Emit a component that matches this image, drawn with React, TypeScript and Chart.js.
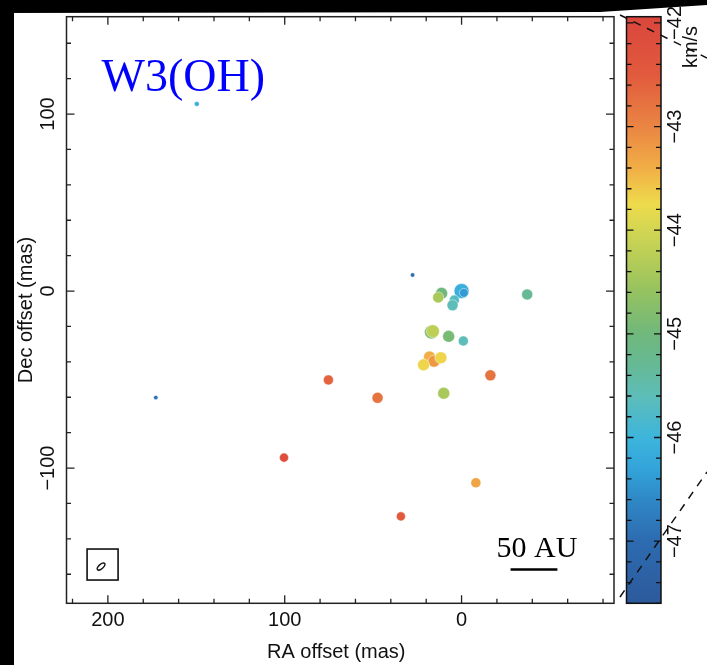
import React, { useEffect, useRef } from "react";
import { Chart, registerables } from "chart.js";

Chart.register(...registerables);

// ---- data (maser spots) ----
const raOffsets = [149.7, 27.7, 172.9, 0.0, -1.3, 11.3, 13.2, 4.1, 5.1, -37.1, 17.0, 16.2, 7.3, -1.0, 18.1, 15.6, 11.7, 21.5, -16.3, 10.1, 75.3, 47.5, 100.4, -8.1, 34.3];
const decOffsets = [105.7, 9.1, -60.2, 0.0, -1.0, -1.3, -3.6, -5.1, -8.0, -1.9, -23.2, -22.7, -25.6, -28.2, -37.3, -39.6, -37.7, -41.7, -47.6, -57.7, -50.2, -60.3, -94.1, -108.3, -127.3];
const velocities = [-46.1, -47.0, -46.9, -46.1, -46.4, -45.0, -44.4, -45.7, -45.6, -45.3, -44.8, -44.2, -44.9, -45.6, -43.4, -43.2, -43.7, -43.7, -42.8, -44.4, -42.6, -42.8, -42.2, -43.3, -42.5];
const peakFlux = [0.06, 0.01, 0.01, 7.6, 1.5, 4.0, 3.1, 2.3, 3.1, 3.1, 6.2, 5.0, 4.0, 2.3, 4.0, 4.0, 4.0, 4.0, 3.1, 4.0, 2.3, 3.1, 1.6, 2.3, 1.6];

const xTickLabels = [200, 100, 0];
const yTickLabels = [100, 0, -100];
const cbTickLabels = [-42, -43, -44, -45, -46, -47];

const RA_MIN = -86.2, RA_MAX = 223.4;
const DEC_MIN = -176.4, DEC_MAX = 155.0;
const V_MIN = -47.6, V_MAX = -41.94;

const cmapStops: [number, string][] = [
  [-47.6, "#2c5a9c"], [-47.0, "#2d6bb0"], [-46.6, "#2f88c6"], [-46.3, "#33a4da"],
  [-46.0, "#3db5dc"], [-45.6, "#5dbdb8"], [-45.3, "#66b994"], [-45.0, "#70b87c"],
  [-44.6, "#94c260"], [-44.3, "#b4cc58"], [-44.0, "#d2d652"], [-43.75, "#eedb4c"],
  [-43.4, "#f1ae46"], [-43.0, "#ea8543"], [-42.5, "#e15a3d"], [-41.94, "#da463c"],
];

function hexToRgb(h: string) {
  return [parseInt(h.slice(1, 3), 16), parseInt(h.slice(3, 5), 16), parseInt(h.slice(5, 7), 16)];
}
function cmap(v: number) {
  if (v <= cmapStops[0][0]) return cmapStops[0][1];
  for (let i = 1; i < cmapStops.length; i++) {
    const [v1, c1] = cmapStops[i];
    const [v0, c0] = cmapStops[i - 1];
    if (v <= v1) {
      const t = (v - v0) / (v1 - v0);
      const a = hexToRgb(c0), b = hexToRgb(c1);
      const c = a.map((x, k) => Math.round(x + (b[k] - x) * t));
      return `rgb(${c[0]},${c[1]},${c[2]})`;
    }
  }
  return cmapStops[cmapStops.length - 1][1];
}
const radiusOf = (f: number) => 2 + 2 * Math.sqrt(f);

const SANS = '"Liberation Sans", Arial, Helvetica, sans-serif';
const SERIF = '"Liberation Serif", "Times New Roman", serif';

const decorPlugin = {
  id: "decor",
  beforeDraw(chart: any) {
    const ctx = chart.ctx;
    ctx.save();
    ctx.fillStyle = "#ffffff";
    ctx.fillRect(0, 0, chart.width, chart.height);
    ctx.restore();
  },
  afterDraw(chart: any) {
    const ctx = chart.ctx;
    const { left, right, top, bottom } = chart.chartArea;
    const xs = chart.scales.x, ys = chart.scales.y, vs = chart.scales.v;
    ctx.save();
    ctx.strokeStyle = "#222";
    ctx.lineWidth = 1.5;
    // frame
    ctx.strokeRect(left, top, right - left, bottom - top);
    // x ticks
    ctx.lineWidth = 1.3;
    for (let v = -80; v <= 220; v += 20) {
      const px = xs.getPixelForValue(v);
      const len = v % 100 === 0 ? 8 : 4.5;
      ctx.beginPath();
      ctx.moveTo(px, bottom); ctx.lineTo(px, bottom - len);
      ctx.moveTo(px, top); ctx.lineTo(px, top + len);
      ctx.stroke();
    }
    for (let v = -160; v <= 140; v += 20) {
      const py = ys.getPixelForValue(v);
      const len = v % 100 === 0 ? 8 : 4.5;
      ctx.beginPath();
      ctx.moveTo(left, py); ctx.lineTo(left + len, py);
      ctx.moveTo(right, py); ctx.lineTo(right - len, py);
      ctx.stroke();
    }
    // tick labels
    ctx.fillStyle = "#111";
    ctx.font = `20px ${SANS}`;
    ctx.textAlign = "center";
    ctx.textBaseline = "middle";
    xTickLabels.forEach((v) => {
      ctx.fillText(String(v).replace("-", "\u2212"), xs.getPixelForValue(v), 620);
    });
    yTickLabels.forEach((v) => {
      ctx.save();
      ctx.translate(48, ys.getPixelForValue(v));
      ctx.rotate(-Math.PI / 2);
      ctx.fillText(String(v).replace("-", "\u2212"), 0, 0);
      ctx.restore();
    });
    // axis titles
    ctx.fillText("RA offset (mas)", (left + right) / 2 - 4, 652);
    ctx.save();
    ctx.translate(26, (top + bottom) / 2);
    ctx.rotate(-Math.PI / 2);
    ctx.fillText("Dec offset (mas)", 0, 0);
    ctx.restore();

    // title text
    ctx.fillStyle = "#0000ff";
    ctx.font = `46px ${SERIF}`;
    ctx.textAlign = "left";
    ctx.textBaseline = "alphabetic";
    ctx.fillText("W3(OH)", left + 35, top + 74);

    // scale bar
    ctx.fillStyle = "#000";
    ctx.font = `30px ${SERIF}`;
    ctx.textAlign = "center";
    const sb0 = xs.getPixelForValue(-27.7), sb1 = xs.getPixelForValue(-54.2);
    ctx.fillText("50 AU", (sb0 + sb1) / 2 + 3, 557);
    ctx.strokeStyle = "#000";
    ctx.lineWidth = 2.5;
    ctx.beginPath();
    ctx.moveTo(sb0, 569.5); ctx.lineTo(sb1, 569.5);
    ctx.stroke();

    // beam box
    const bx = xs.getPixelForValue(203.0), by = ys.getPixelForValue(-154.5);
    ctx.lineWidth = 1.6;
    ctx.strokeStyle = "#111";
    ctx.strokeRect(bx - 15.5, by - 15.5, 31, 31);
    ctx.lineWidth = 1.4;
    ctx.beginPath();
    ctx.ellipse(bx - 1.5, by + 2, 4.8, 2.2, -0.7, 0, Math.PI * 2);
    ctx.stroke();

    // colorbar
    const cbL = 626.5, cbR = 661;
    const cbT = vs.getPixelForValue(V_MAX), cbB = vs.getPixelForValue(V_MIN);
    const grad = ctx.createLinearGradient(0, cbB, 0, cbT);
    cmapStops.forEach(([v, c]) => {
      const t = (v - V_MIN) / (V_MAX - V_MIN);
      grad.addColorStop(Math.min(1, Math.max(0, t)), c);
    });
    ctx.fillStyle = grad;
    ctx.fillRect(cbL, cbT, cbR - cbL, cbB - cbT);
    ctx.strokeStyle = "#111";
    ctx.lineWidth = 1.5;
    ctx.strokeRect(cbL, cbT, cbR - cbL, cbB - cbT);
    ctx.lineWidth = 1.3;
    for (let k = 0; k <= 28; k++) {
      const v = -42 - k * 0.2;
      if (v < V_MIN) break;
      const py = vs.getPixelForValue(v);
      const major = k % 5 === 0;
      const len = major ? 7 : 5;
      ctx.beginPath();
      ctx.moveTo(cbL, py); ctx.lineTo(cbL + len, py);
      ctx.moveTo(cbR, py); ctx.lineTo(cbR - len, py);
      ctx.stroke();
    }
    ctx.fillStyle = "#111";
    ctx.font = `20px ${SANS}`;
    ctx.textAlign = "center";
    ctx.textBaseline = "middle";
    cbTickLabels.forEach((v) => {
      ctx.save();
      ctx.translate(675, vs.getPixelForValue(v));
      ctx.rotate(-Math.PI / 2);
      ctx.fillText(String(v).replace("-", "\u2212"), 0, 0);
      ctx.restore();
    });
    ctx.save();
    ctx.translate(691, 47);
    ctx.rotate(-Math.PI / 2);
    ctx.fillText("km/s", 0, 0);
    ctx.restore();

    // dashed connector lines
    ctx.strokeStyle = "#111";
    ctx.lineWidth = 1.5;
    ctx.setLineDash([8, 7]);
    ctx.beginPath();
    ctx.moveTo(620, 597); ctx.lineTo(707, 472);
    ctx.moveTo(620, 15); ctx.lineTo(707, 58);
    ctx.stroke();
    ctx.setLineDash([]);

    // black border strips
    ctx.fillStyle = "#000";
    ctx.beginPath();
    ctx.moveTo(0, 0); ctx.lineTo(chart.width, 0); ctx.lineTo(chart.width, 5); ctx.lineTo(600, 12); ctx.lineTo(0, 13);
    ctx.closePath();
    ctx.fill();
    ctx.fillRect(0, 0, 14, chart.height);
    ctx.restore();
  },
};

export default function App() {
  const ref = useRef<HTMLCanvasElement>(null);
  useEffect(() => {
    if (!ref.current) return;
    const pts = raOffsets.map((x, i) => ({ x, y: decOffsets[i] }));
    const colors = velocities.map((v) => cmap(v));
    const chart = new Chart(ref.current, {
      type: "scatter",
      data: {
        datasets: [
          {
            data: pts,
            xAxisID: "x",
            yAxisID: "y",
            pointBackgroundColor: colors,
            pointBorderColor: "rgba(255,255,255,0.45)",
            pointBorderWidth: 1,
            pointRadius: peakFlux.map(radiusOf),
            pointHoverRadius: peakFlux.map(radiusOf),
          },
        ],
      },
      options: {
        responsive: false,
        animation: false,
        layout: { padding: { left: 66.5, right: 707 - 614, top: 16.7, bottom: 665 - 603.3 } },
        plugins: { legend: { display: false }, tooltip: { enabled: false } },
        scales: {
          x: { type: "linear", reverse: true, min: RA_MIN, max: RA_MAX, display: false },
          y: { type: "linear", min: DEC_MIN, max: DEC_MAX, display: false },
          v: { type: "linear", axis: "y", position: "right", min: V_MIN, max: V_MAX, display: false },
        },
      },
      plugins: [decorPlugin],
    });
    return () => chart.destroy();
  }, []);
  return (
    <div style={{ position: "fixed", left: 0, top: 0, width: 707, height: 665, background: "#fff" }}>
      <canvas ref={ref} width={707} height={665} style={{ display: "block", width: 707, height: 665 }} />
    </div>
  );
}
